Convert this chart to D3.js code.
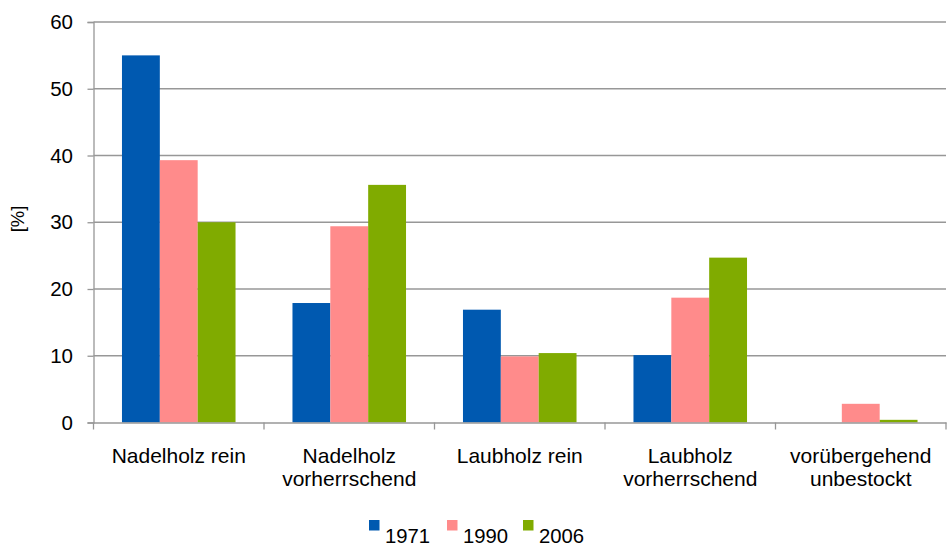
<!DOCTYPE html>
<html>
<head>
<meta charset="utf-8">
<script src="https://cdn.jsdelivr.net/npm/d3@7"></script>
<style>
  html, body { margin: 0; padding: 0; background: #fff; }
  svg { display: block; font-family: "Liberation Sans", Arial, sans-serif; }
</style>
</head>
<body>
<svg id="chart" width="948" height="545"></svg>
<script>
const categories = ["Nadelholz rein", "Nadelholz vorherrschend", "Laubholz rein", "Laubholz vorherrschend", "vorübergehend unbestockt"];
const seriesNames = ["1971", "1990", "2006"];
const values1971 = [55, 17.9, 16.9, 10.1, 0];
const values1990 = [39.3, 29.4, 9.9, 18.7, 2.8];
const values2006 = [30, 35.6, 10.4, 24.7, 0.4];
const yTicks = [0, 10, 20, 30, 40, 50, 60];
const colors = ["#0059b0", "#ff8b8b", "#80ab00"];

(function () {
const seriesValues = [values1971, values1990, values2006];
const svg = d3.select("#chart");
const pL = 93.5, pR = 946, pT = 22, pB = 422.5;
const FONT = "'Liberation Sans', Arial, sans-serif";
const GRID = "#979797";

const x = d3.scaleBand().domain(categories).range([pL, pR]).padding(0);
const bw = x.bandwidth();
const gap = bw * 0.167;
const xs = d3.scaleBand().domain(seriesNames).range([gap, bw - gap]).padding(0);
const y = d3.scaleLinear().domain([0, 60]).range([pB, pT]);

// gridlines
svg.append("g")
  .selectAll("line")
  .data(yTicks.filter(d => d > 0))
  .join("line")
  .attr("x1", pL).attr("x2", pR)
  .attr("y1", d => y(d)).attr("y2", d => y(d))
  .attr("stroke", GRID).attr("stroke-width", 1.3);

// bars
const groups = svg.append("g")
  .selectAll("g")
  .data(categories)
  .join("g")
  .attr("transform", d => `translate(${x(d)},0)`);

groups.selectAll("rect")
  .data((c, i) => seriesNames.map((s, j) => ({ s, v: seriesValues[j][i], j })))
  .join("rect")
  .attr("x", d => xs(d.s))
  .attr("width", xs.bandwidth())
  .attr("y", d => y(d.v))
  .attr("height", d => pB - y(d.v))
  .attr("fill", d => colors[d.j]);

// y axis
const yAxis = d3.axisLeft(y).tickValues(yTicks).tickSize(6).tickPadding(14.5).tickFormat(d3.format("d"));
const yg = svg.append("g").attr("transform", `translate(${pL},0)`).call(yAxis);
yg.select(".domain").attr("stroke", GRID).attr("stroke-width", 1.3);
yg.selectAll(".tick line").attr("stroke", GRID).attr("stroke-width", 1.3);
yg.selectAll(".tick text").attr("font-size", 20.5).attr("fill", "#000").attr("font-family", FONT);

// x axis
const xAxis = d3.axisBottom(x).tickSize(0).tickPadding(0);
const xg = svg.append("g").attr("transform", `translate(0,${pB})`).call(xAxis);
xg.select(".domain").attr("stroke", GRID).attr("stroke-width", 1.3);
xg.selectAll("line.bound")
  .data(d3.range(categories.length + 1))
  .join("line")
  .attr("class", "bound")
  .attr("x1", i => pL + i * x.step()).attr("x2", i => pL + i * x.step())
  .attr("y1", 0).attr("y2", 7)
  .attr("stroke", GRID).attr("stroke-width", 1.3);

xg.selectAll(".tick text")
  .attr("font-size", 21).attr("fill", "#000").attr("font-family", FONT)
  .each(function (d) {
    const t = d3.select(this);
    t.text(null).attr("y", 0).attr("dy", null);
    const words = d.split(" ");
    const lines = [];
    let cur = "";
    const probe = svg.append("text").attr("font-size", 21).attr("font-family", FONT);
    words.forEach(w => {
      const test = cur ? cur + " " + w : w;
      probe.text(test);
      if (probe.node().getComputedTextLength() > bw - 16 && cur) {
        lines.push(cur); cur = w;
      } else cur = test;
    });
    lines.push(cur);
    probe.remove();
    lines.forEach((ln, k) => {
      t.append("tspan").attr("x", 0).attr("y", 40.5 + k * 22.5).text(ln);
    });
  });

// y label
svg.append("text")
  .attr("transform", `translate(24,219) rotate(-90)`)
  .attr("text-anchor", "middle")
  .attr("font-size", 18.5)
  .attr("fill", "#000")
  .text("[%]");

// legend
const legendX = [369, 447, 523];
const items = svg.append("g").selectAll("g").data(seriesNames).join("g")
  .attr("transform", (d, i) => `translate(${legendX[i]},0)`);
items.append("rect").attr("x", 0).attr("y", 520).attr("width", 10.5).attr("height", 10.5)
  .attr("fill", (d, i) => colors[i]);
items.append("text").attr("x", 16).attr("y", 542.5).attr("font-size", 20.3).attr("fill", "#000").text(d => d);
})();
</script>
</body>
</html>
